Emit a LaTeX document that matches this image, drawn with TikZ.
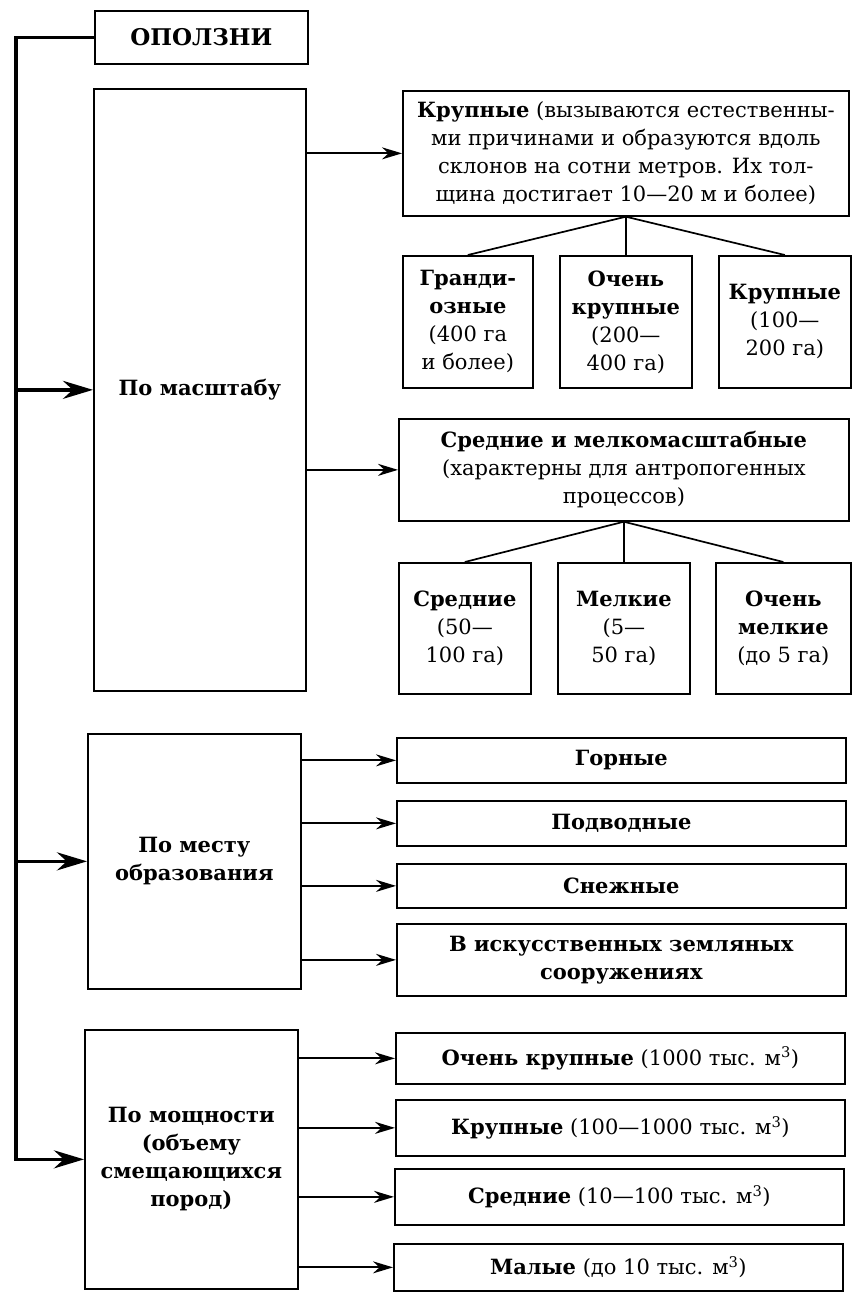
\documentclass[tikz,border=0pt]{standalone}
\usepackage{fontspec}
\setmainfont{DejaVu Serif}
\usetikzlibrary{arrows.meta}

\begin{document}
\begin{tikzpicture}[x=1pt,y=1pt,yscale=-1,
        box/.style={draw, line width=1.7pt, anchor=north west, align=center, inner sep=2pt, font=\fontsize{21}{28}\selectfont},
        arr/.style={line width=1.8pt, -{Stealth[length=20pt,width=12pt]}},
        tarr/.style={line width=3.5pt, -{Stealth[length=30pt,width=18pt]}},
        tie/.style={line width=1.7pt}]
        \useasboundingbox (0,0) rectangle (854,1293);

        \node[box, minimum width=213, minimum height=53, font=\fontsize{23}{28}\selectfont] (top) at (94,10) {\textbf{ОПОЛЗНИ}};
        \node[box, minimum width=212, minimum height=602] (scale) at (93,88) {\textbf{По масштабу}};
        \node[box, minimum width=446, minimum height=125] (large) at (402,90) {\textbf{Крупные} (вызываются естественны-\\ми причинами и образуются вдоль\\склонов на сотни метров. Их тол-\\щина достигает 10—20 м и более)};
        \node[box, minimum width=130, minimum height=132] (g1) at (402,255) {\textbf{Гранди-}\\\textbf{озные}\\(400 га\\и более)};
        \node[box, minimum width=132, minimum height=132] (g2) at (559,255) {\textbf{Очень}\\\textbf{крупные}\\(200—\\400 га)};
        \node[box, minimum width=132, minimum height=132] (g3) at (718,255) {\textbf{Крупные}\\(100—\\200 га)};
        \node[box, minimum width=450, minimum height=102] (mid) at (398,418) {\textbf{Средние и мелкомасштабные}\\(характерны для антропогенных\\процессов)};
        \node[box, minimum width=132, minimum height=131] (s1) at (398,562) {\textbf{Средние}\\(50—\\100 га)};
        \node[box, minimum width=132, minimum height=131] (s2) at (557,562) {\textbf{Мелкие}\\(5—\\50 га)};
        \node[box, minimum width=135, minimum height=131] (s3) at (715,562) {\textbf{Очень}\\\textbf{мелкие}\\(до 5 га)};

        \node[box, minimum width=213, minimum height=255] (place) at (87,733) {\textbf{По месту}\\\textbf{образования}};
        \node[box, minimum width=449, minimum height=45] (p1) at (396,737) {\textbf{Горные}};
        \node[box, minimum width=449, minimum height=45] (p2) at (396,800) {\textbf{Подводные}};
        \node[box, minimum width=449, minimum height=44] (p3) at (396,863) {\textbf{Снежные}};
        \node[box, minimum width=449, minimum height=72] (p4) at (396,923) {\textbf{В искусственных земляных}\\\textbf{сооружениях}};

        \node[box, minimum width=213, minimum height=259] (volume) at (84,1029) {\textbf{По мощности}\\\textbf{(объему}\\\textbf{смещающихся}\\\textbf{пород)}};
        \node[box, minimum width=449, minimum height=51] (v1) at (395,1032) {\textbf{Очень крупные} (1000 тыс. м\textsuperscript{3})};
        \node[box, minimum width=449, minimum height=56] (v2) at (395,1099) {\textbf{Крупные} (100—1000 тыс. м\textsuperscript{3})};
        \node[box, minimum width=449, minimum height=56] (v3) at (394,1168) {\textbf{Средние} (10—100 тыс. м\textsuperscript{3})};
        \node[box, minimum width=449, minimum height=47] (v4) at (393,1243) {\textbf{Малые} (до 10 тыс. м\textsuperscript{3})};

        \coordinate (spine) at (16,33);
        \draw[tarr] (top.west) -| (spine |- volume.west) -- (volume.west);
        \draw[tarr] (spine |- scale.west) -- (scale.west);
        \draw[tarr] (spine |- place.west) -- (place.west);

        \draw[arr] (scale.east |- large.west) -- (large.west);
        \draw[arr] (scale.east |- mid.west) -- (mid.west);
        \foreach \k in {g1,g2,g3}
            \draw[tie] (large.south) -- (\k.north);
        \foreach \k in {s1,s2,s3}
            \draw[tie] (mid.south) -- (\k.north);
        \foreach \k in {p1,p2,p3,p4}
            \draw[arr] (place.east |- \k.west) -- (\k.west);
        \foreach \k in {v1,v2,v3,v4}
            \draw[arr] (volume.east |- \k.west) -- (\k.west);
\end{tikzpicture}
\end{document}
